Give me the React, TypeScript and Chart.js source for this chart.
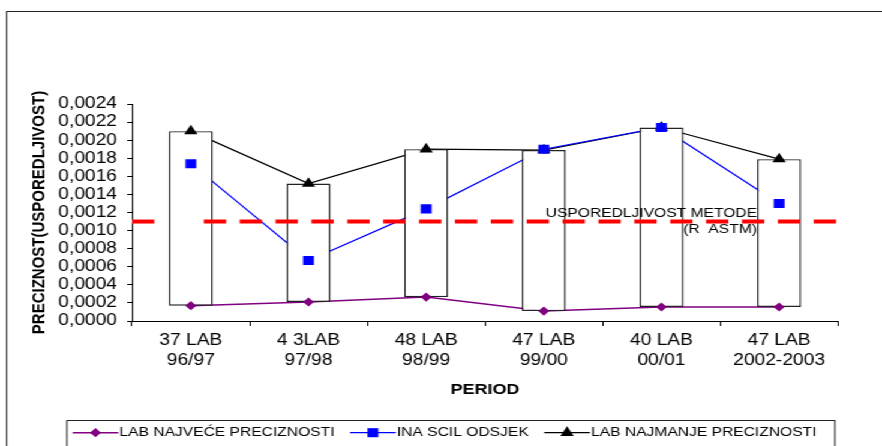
import React, { useEffect, useRef } from "react";
import { Chart, registerables } from "chart.js";

Chart.register(...registerables);

// ---------- data ----------
const CATEGORIES: string[][] = [
  ["37 LAB", "96/97"],
  ["4 3LAB", "97/98"],
  ["48 LAB", "98/99"],
  ["47 LAB", "99/00"],
  ["40 LAB", "00/01"],
  ["47 LAB", "2002-2003"],
];
const LAB_NAJVECE = [0.00017, 0.00021, 0.000265, 0.00011, 0.000155, 0.000155];
const INA_SCIL = [0.00174, 0.00067, 0.00124, 0.0019, 0.00214, 0.0013];
const LAB_NAJMANJE = [0.0021, 0.00152, 0.0019, 0.00189, 0.00214, 0.00179];
const SERIES_NAMES = ["LAB NAJVEĆE PRECIZNOSTI", "INA SCIL ODSJEK", "LAB NAJMANJE PRECIZNOSTI"];
const Y_TICK_LABELS = [
  "0,0000", "0,0002", "0,0004", "0,0006", "0,0008", "0,0010", "0,0012",
  "0,0014", "0,0016", "0,0018", "0,0020", "0,0022", "0,0024",
];
const Y_MAX = 0.0024;
const Y_STEP = 0.0002;
const REF_VALUE = 0.0011;
const REF_LABEL = ["USPOREDLJIVOST METODE", "(R  ASTM)"];
const X_TITLE = "PERIOD";
const Y_TITLE = "PRECIZNOST(USPOREDLJIVOST)";

// ---------- styles ----------
const SX = 1.2; // horizontal stretch of the reference picture
const W = 882 / SX;
const H = 446;
const FONT = "'Liberation Sans', Arial, sans-serif";
const COLORS = ["#800080", "#0000FF", "#000000"];
const STYLES = ["rectRot", "rect", "triangle"];
const RADII = [4.6, 6.4, 6.4];
const SERIES = [LAB_NAJVECE, INA_SCIL, LAB_NAJMANJE];

function drawMarker(ctx: CanvasRenderingContext2D, style: string, x: number, y: number, r: number, color: string) {
  ctx.save();
  ctx.fillStyle = color;
  ctx.beginPath();
  if (style === "rectRot") {
    ctx.moveTo(x - r, y);
    ctx.lineTo(x, y - r);
    ctx.lineTo(x + r, y);
    ctx.lineTo(x, y + r);
  } else if (style === "rect") {
    const s = r * Math.SQRT1_2;
    ctx.rect(x - s, y - s, 2 * s, 2 * s);
  } else {
    ctx.moveTo(x, y - r);
    ctx.lineTo(x + r * Math.sin(Math.PI * 2 / 3), y - r * Math.cos(Math.PI * 2 / 3));
    ctx.lineTo(x + r * Math.sin(Math.PI * 4 / 3), y - r * Math.cos(Math.PI * 4 / 3));
  }
  ctx.closePath();
  ctx.fill();
  ctx.restore();
}

const framePlugin = {
  id: "frame",
  beforeDraw(chart: any) {
    const ctx = chart.ctx as CanvasRenderingContext2D;
    ctx.save();
    ctx.fillStyle = "#ffffff";
    ctx.fillRect(0, 0, chart.width, chart.height);
    ctx.strokeStyle = "#222";
    ctx.lineWidth = 1;
    ctx.strokeRect(5.6, 11.5, chart.width + 50, chart.height + 50);
    ctx.restore();
  },
};

const refLinePlugin = {
  id: "refLine",
  afterDatasetsDraw(chart: any) {
    const ctx = chart.ctx as CanvasRenderingContext2D;
    const area = chart.chartArea;
    const y = chart.scales.y.getPixelForValue(REF_VALUE);
    const dash = 18.6;
    const period = 29.9;
    ctx.save();
    ctx.strokeStyle = "#ff0000";
    ctx.lineWidth = 4;
    ctx.setLineDash([dash, period - dash]);
    ctx.beginPath();
    ctx.moveTo(area.left, y);
    ctx.lineTo(area.left + dash, y);
    ctx.stroke();
    ctx.beginPath();
    ctx.moveTo(area.left + 2 * period, y);
    ctx.lineTo(area.right - 1.5, y);
    ctx.stroke();
    ctx.setLineDash([]);
    ctx.fillStyle = "#000";
    ctx.font = `13px ${FONT}`;
    ctx.textAlign = "right";
    ctx.textBaseline = "middle";
    const tx = area.right - 67.5;
    ctx.fillText(REF_LABEL[0], tx, y - 8.3);
    ctx.fillText(REF_LABEL[1], tx, y + 8);
    ctx.restore();
  },
};

const legendPlugin = {
  id: "boxLegend",
  afterDraw(chart: any) {
    const ctx = chart.ctx as CanvasRenderingContext2D;
    ctx.save();
    ctx.strokeStyle = "#222";
    ctx.lineWidth = 1;
    ctx.strokeRect(55.8, 420.5, 640, 60);
    ctx.font = `13px ${FONT}`;
    ctx.textBaseline = "middle";
    ctx.textAlign = "left";
    const y = 432.7;
    let x = 60.6;
    SERIES_NAMES.forEach((name, i) => {
      ctx.strokeStyle = COLORS[i];
      ctx.lineWidth = i === 0 ? 1.5 : 1.2;
      ctx.beginPath();
      ctx.moveTo(x, y);
      ctx.lineTo(x + 38, y);
      ctx.stroke();
      drawMarker(ctx, STYLES[i], x + 19, y, RADII[i], COLORS[i]);
      ctx.fillStyle = "#000";
      ctx.fillText(name, x + 39, y);
      x = x + 39 + ctx.measureText(name).width + 13;
    });
    ctx.restore();
  },
};

export default function App() {
  const ref = useRef<HTMLCanvasElement>(null);
  useEffect(() => {
    if (!ref.current) return;
    Chart.defaults.font.family = FONT;
    Chart.defaults.color = "#000";
    const lineDatasets = SERIES.map((d, i) => ({
      type: "line" as const,
      label: SERIES_NAMES[i],
      data: d,
      borderColor: COLORS[i],
      borderWidth: i === 0 ? 1.5 : 1.2,
      pointRadius: 0,
      fill: false,
      tension: 0,
      order: 3,
    }));
    const markerDatasets = SERIES.map((d, i) => ({
      type: "line" as const,
      label: SERIES_NAMES[i] + " marker",
      data: d,
      showLine: false,
      pointStyle: STYLES[i],
      pointRadius: RADII[i],
      pointBackgroundColor: COLORS[i],
      pointBorderColor: COLORS[i],
      pointBorderWidth: 0,
      order: 1,
    }));
    const boxDataset = {
      type: "bar" as const,
      label: "range",
      data: LAB_NAJVECE.map((lo, i) => [lo, LAB_NAJMANJE[i]]),
      backgroundColor: "#ffffff",
      borderColor: "#222222",
      borderWidth: 1.4,
      borderSkipped: false,
      barPercentage: 0.374,
      categoryPercentage: 1,
      order: 2,
    };
    const chart = new Chart(ref.current, {
      type: "bar",
      data: {
        labels: CATEGORIES,
        datasets: [...lineDatasets, boxDataset, ...markerDatasets] as any,
      },
      options: {
        responsive: false,
        animation: false,
        devicePixelRatio: 1,
        layout: { padding: { left: 0, right: 36.7, top: 104, bottom: 46 } },
        plugins: { legend: { display: false }, tooltip: { enabled: false }, title: { display: false } },
        scales: {
          x: {
            type: "category",
            offset: true,
            grid: { display: true, drawOnChartArea: false, drawTicks: true, tickLength: 5, color: "#000", offset: true },
            border: { display: true, color: "#000", width: 1 },
            ticks: { color: "#000", font: { size: 16, lineHeight: 1.2 }, padding: 5.4, maxRotation: 0, autoSkip: false },
            title: {
              display: true,
              text: X_TITLE,
              color: "#000",
              font: { size: 15, weight: "bold", lineHeight: 1.2 },
              padding: { top: 0, bottom: 1 },
            },
            afterFit: (s: any) => { s.height = 79; },
          },
          y: {
            type: "linear",
            min: 0,
            max: Y_MAX,
            ticks: {
              stepSize: Y_STEP,
              autoSkip: false,
              color: "#000",
              font: { size: 16 },
              padding: 8.5,
              callback: (v: any) => Y_TICK_LABELS[Math.round(Number(v) / Y_STEP)] ?? "",
            },
            grid: { display: true, drawOnChartArea: false, drawTicks: true, tickLength: 4, color: "#000" },
            border: { display: true, color: "#000", width: 1 },
            title: {
              display: true,
              text: Y_TITLE,
              color: "#000",
              font: { size: 15, weight: "bold", lineHeight: 1.2 },
              padding: { top: 24, bottom: 0 },
            },
            afterFit: (s: any) => { s.width = 110; },
          },
        },
      } as any,
      plugins: [framePlugin, refLinePlugin, legendPlugin],
    });
    return () => chart.destroy();
  }, []);
  return (
    <div
      style={{
        position: "fixed",
        left: 0,
        top: 0,
        width: W,
        height: H,
        transform: `scaleX(${SX})`,
        transformOrigin: "0 0",
        background: "#fff",
        overflow: "hidden",
      }}
    >
      <canvas ref={ref} width={W} height={H} style={{ display: "block", width: W, height: H }} />
    </div>
  );
}
